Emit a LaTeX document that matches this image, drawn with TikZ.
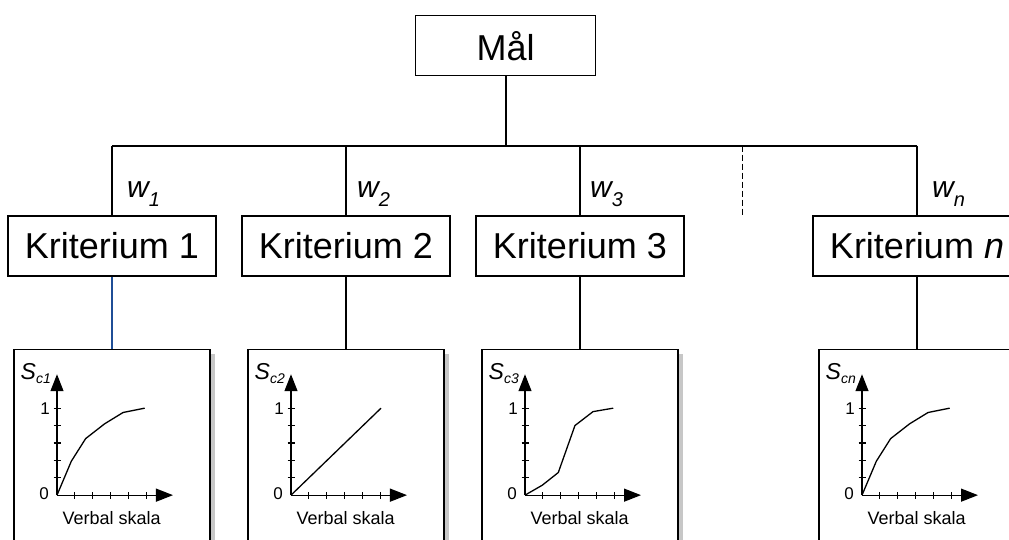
\documentclass[tikz,border=0pt]{standalone}
\usepackage{fontspec}
\setmainfont{Liberation Sans}
\usetikzlibrary{positioning,arrows.meta,shadows}
\definecolor{linkblue}{HTML}{1F4E96}
\tikzset{
  crit/.style={draw, line width=1.3pt, minimum width=208pt, minimum height=60pt,
    inner sep=0pt, font=\fontsize{36}{40}\selectfont},
  graphbox/.style={draw, fill=white, line width=1.3pt, minimum width=196pt,
    minimum height=230pt, drop shadow={shadow xshift=5pt, shadow yshift=-5pt,
    fill=black!22, opacity=1}},
  weight/.style={inner sep=0pt, anchor=base west, font=\fontsize{30}{32}\selectfont\itshape},
  link/.style={line width=1.3pt},
  trunk/.style={line width=1.8pt},
  axis/.style={line width=1.3pt, -{Triangle[length=17pt,width=13pt]}},
  curve/.style={line width=1.3pt, line join=round},
  small/.style={inner sep=0pt, font=\fontsize{17}{18}\selectfont}
}
% axes, ticks and labels of one small value graph, origin at (0,0)
\newcommand{\valuegraph}[1]{%
  \draw[axis] (0,0) -- (6.48,0);
  \draw[axis] (0,0) -- (0,1.39);
  \foreach \i in {1,...,5}
    \draw[line width=1.1pt] ([yshift=-3.5pt]\i,0) -- ([yshift=3.5pt]\i,0);
  \foreach \j in {0.2,0.4,0.6,0.8,1}
    \draw[line width=1.1pt] ([xshift=-3.5pt]0,\j) -- ([xshift=3.5pt]0,\j);
  \node[small, anchor=east] (zero#1) at ([xshift=-8pt]0,0.02) {0};
  \node[small, anchor=east] (one#1) at ([xshift=-7pt]0,1) {1};
  \node[inner sep=0pt, anchor=east] (s#1) at ([xshift=-6pt]0,1.40)
    {\fontsize{23}{24}\selectfont\itshape S\raisebox{-4pt}{\fontsize{14}{14}\selectfont c#1}};
  \node[inner sep=0pt, font=\fontsize{18}{20}\selectfont] (vs#1) at (3.05,-0.265) {Verbal skala};
}
\begin{document}
\begin{tikzpicture}[x=1pt,y=-1pt]
\path[use as bounding box] (0,0) rectangle (1009,540);
\clip (0,0) rectangle (1009,540);

% goal and criteria
\node[crit, minimum width=180pt] (goal) at (505.7,45.7) {Mål};
\node[crit] (k1) at (112,246) {Kriterium 1};
\node[crit] (k2) at (346,246) {Kriterium 2};
\node[crit] (k3) at (580,246) {Kriterium 3};
\node[crit] (kn) at (917,246) {Kriterium \textit{n}};

\coordinate (bar) at (0,145.7);
\coordinate (gap) at (742.3,217);
\draw[trunk] (goal) -- (goal |- bar);
\draw[trunk] (k1 |- bar) -- (kn |- bar);
\foreach \k in {k1,k2,k3,kn}
  \draw[link] (\k |- bar) -- (\k);
\draw[link, dash pattern=on 6pt off 3pt] (gap |- bar) -- (gap);

% weights
\node[weight, xshift=15pt, yshift=18pt] (w1) at (k1.north) {w\raisebox{-9pt}{\fontsize{20}{20}\selectfont 1}};
\node[weight, xshift=11pt, yshift=18pt] (w2) at (k2.north) {w\raisebox{-9pt}{\fontsize{20}{20}\selectfont 2}};
\node[weight, xshift=10pt, yshift=18pt] (w3) at (k3.north) {w\raisebox{-9pt}{\fontsize{20}{20}\selectfont 3}};
\node[weight, xshift=15pt, yshift=18pt] (wn) at (kn.north) {w\raisebox{-9pt}{\fontsize{20}{20}\selectfont n}};

% value function boxes
\node[graphbox, below=72pt of k1] (g1) {};
\node[graphbox, below=72pt of k2] (g2) {};
\node[graphbox, below=72pt of k3] (g3) {};
\node[graphbox, below=72pt of kn] (gn) {};
\draw[link, linkblue] (k1) -- (g1);
\draw[link] (k2) -- (g2);
\draw[link] (k3) -- (g3);
\draw[link] (kn) -- (gn);

\begin{scope}[shift={(g1.north)}, xshift=-55pt, yshift=-146.5pt, x=17.9pt, y=87pt]
  \valuegraph{1}
  \draw[curve] (0,0) -- (0.8,0.39) -- (1.6,0.65) -- (2.66,0.82) -- (3.69,0.95) -- (4.9,1);
\end{scope}
\begin{scope}[shift={(g2.north)}, xshift=-55pt, yshift=-146.5pt, x=17.9pt, y=87pt]
  \valuegraph{2}
  \draw[curve] (0,0) -- (5.03,1);
\end{scope}
\begin{scope}[shift={(g3.north)}, xshift=-55pt, yshift=-146.5pt, x=17.9pt, y=87pt]
  \valuegraph{3}
  \draw[curve] (0,0) -- (0.97,0.115) -- (1.86,0.26) -- (2.79,0.8) -- (3.8,0.96) -- (4.93,1);
\end{scope}
\begin{scope}[shift={(gn.north)}, xshift=-55pt, yshift=-146.5pt, x=17.9pt, y=87pt]
  \valuegraph{n}
  \draw[curve] (0,0) -- (0.8,0.39) -- (1.6,0.65) -- (2.66,0.82) -- (3.69,0.95) -- (4.9,1);
\end{scope}
\end{tikzpicture}
\end{document}
